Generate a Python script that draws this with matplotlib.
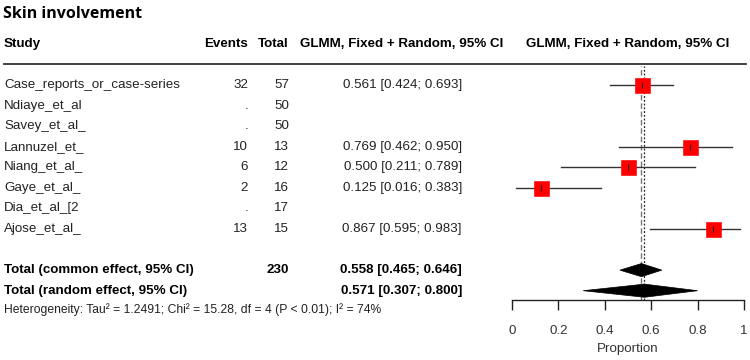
import matplotlib
matplotlib.use("Agg")
import matplotlib.pyplot as plt
from matplotlib.patches import Polygon

plt.rcParams["font.family"] = ["Liberation Sans", "DejaVu Sans"]

# study-level data
studies = ["Case_reports_or_case-series", "Ndiaye_et_al", "Savey_et_al_", "Lannuzel_et_",
           "Niang_et_al_", "Gaye_et_al_", "Dia_et_al_[2", "Ajose_et_al_"]
events = [32, None, None, 10, 6, 2, None, 13]
totals = [57, 50, 50, 13, 12, 16, 17, 15]
prop = [0.561, None, None, 0.769, 0.500, 0.125, None, 0.867]
lower = [0.424, None, None, 0.462, 0.211, 0.016, None, 0.595]
upper = [0.693, None, None, 0.950, 0.789, 0.383, None, 0.983]

# pooled estimates
common_est, common_lo, common_hi = 0.558, 0.465, 0.646
random_est, random_lo, random_hi = 0.571, 0.307, 0.800
total_n = 230
het_text = "Heterogeneity: Tau² = 1.2491; Chi² = 15.28, df = 4 (P < 0.01); I² = 74%"
col_header = "GLMM, Fixed + Random, 95% CI"
xticks = [0, 0.2, 0.4, 0.6, 0.8, 1]

W, H = 750, 360
ROW = 20.57          # pixels per row
Y0 = 85              # pixel y of first row


def r(py):
    return (py - Y0) / ROW


fig = plt.figure(figsize=(W / 100, H / 100), dpi=100)
fig.patch.set_facecolor("white")

# text layer: x in pixels, y in row units
ax = fig.add_axes([0, 0, 1, 1])
ax.set_xlim(0, W)
ax.set_ylim(r(H), r(0))
ax.axis("off")

fs = 9.6
ax.text(3, r(14), "Skin involvement", fontsize=11.5, fontweight="bold",
        family=["Open Sans", "DejaVu Sans"], va="center", ha="left")
hy = r(44)
ax.text(4, hy, "Study", fontsize=fs, fontweight="bold", va="center")
ax.text(248, hy, "Events", fontsize=fs, fontweight="bold", va="center", ha="right")
ax.text(289, hy, "Total", fontsize=fs, fontweight="bold", va="center", ha="right")
ax.text(503, hy, col_header, fontsize=fs, fontweight="bold", va="center", ha="right")
ax.text(628, hy, col_header, fontsize=fs, fontweight="bold", va="center", ha="center")
ax.plot([4, 746], [r(63.5), r(63.5)], color="#333333", lw=1.3)

for i, name in enumerate(studies):
    ax.text(4, i, name, fontsize=fs, va="center", color="#222222")
    ev = "." if events[i] is None else str(events[i])
    ax.text(248, i, ev, fontsize=fs, va="center", ha="right", color="#222222")
    ax.text(289, i, str(totals[i]), fontsize=fs, va="center", ha="right", color="#222222")
    if prop[i] is not None:
        ax.text(462, i, f"{prop[i]:.3f} [{lower[i]:.3f}; {upper[i]:.3f}]",
                fontsize=fs, va="center", ha="right", color="#222222")

rc, rr = len(studies) + 1, len(studies) + 2
ax.text(4, rc, "Total (common effect, 95% CI)", fontsize=fs, fontweight="bold", va="center")
ax.text(289, rc, str(total_n), fontsize=fs, fontweight="bold", va="center", ha="right")
ax.text(462, rc, f"{common_est:.3f} [{common_lo:.3f}; {common_hi:.3f}]",
        fontsize=fs, fontweight="bold", va="center", ha="right")
ax.text(4, rr, "Total (random effect, 95% CI)", fontsize=fs, fontweight="bold", va="center")
ax.text(462, rr, f"{random_est:.3f} [{random_lo:.3f}; {random_hi:.3f}]",
        fontsize=fs, fontweight="bold", va="center", ha="right")
ax.text(4, r(310), het_text, fontsize=8.7, va="center", color="#222222")

# forest panel: x in proportion, same row units
ax_top, ax_bot = 66, 300
fax = fig.add_axes([512 / W, 1 - ax_bot / H, 232 / W, (ax_bot - ax_top) / H])
fax.set_xlim(0, 1)
fax.set_ylim(r(ax_bot), r(ax_top))
fax.patch.set_alpha(0)
for s in ["top", "left", "right"]:
    fax.spines[s].set_visible(False)
fax.spines["bottom"].set_linewidth(1.0)
fax.spines["bottom"].set_color("#222222")
fax.set_yticks([])
fax.set_xticks(xticks)
fax.set_xticklabels([f"{t:g}" for t in xticks], fontsize=fs, color="#333333")
fax.tick_params(axis="x", length=7, width=1.0, color="#222222", pad=11)
fax.set_xlabel("Proportion", fontsize=fs, color="#333333", labelpad=4)

fax.axvline(common_est, color="#777777", lw=1.0, ls=(0, (4, 2)))
fax.axvline(random_est, color="#222222", lw=0.9, ls=(0, (1.5, 1.5)))

for i in range(len(studies)):
    if prop[i] is None:
        continue
    fax.plot([lower[i], upper[i]], [i, i], color="#333333", lw=1.0, zorder=2)
    fax.plot([prop[i]], [i], marker="s", ms=10.8, mfc="#ff0000", mec="#ff1010",
             mew=0.5, ls="none", zorder=3)
    fax.plot([prop[i]], [i], marker="|", ms=5, mec="#222222", mew=0.8, ls="none", zorder=4)

dh = 0.32
for y, lo, est, hi in [(rc, common_lo, common_est, common_hi),
                        (rr, random_lo, random_est, random_hi)]:
    fax.add_patch(Polygon([[lo, y], [est, y - dh], [hi, y], [est, y + dh]],
                          closed=True, facecolor="black", edgecolor="black", lw=0.5,
                          zorder=3))

fig.savefig("out.png", dpi=100, facecolor="white")
